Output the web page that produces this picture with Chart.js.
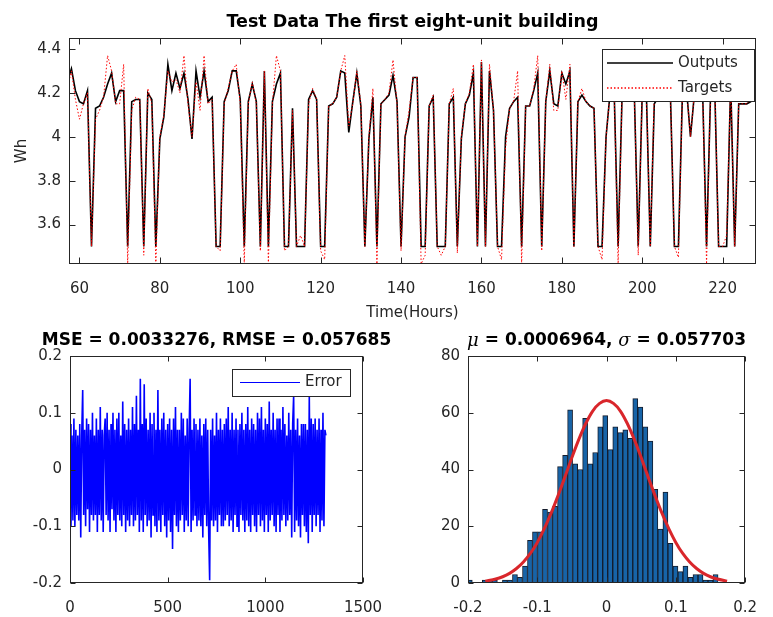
<!DOCTYPE html>
<html>
<head>
<meta charset="utf-8">
<script src="https://cdn.jsdelivr.net/npm/chart.js@4.4.0/dist/chart.umd.min.js"></script>
<style>
  html, body { margin: 0; padding: 0; background: #fff; }
  #page { position: relative; width: 773px; height: 617px; overflow: hidden; background: #fff; }
  canvas { position: absolute; }
</style>
</head>
<body>
<div id="page">
  <canvas id="top-chart" width="773" height="330" style="left:0px;top:0px"></canvas>
  <canvas id="error-chart" width="400" height="297" style="left:0px;top:320px"></canvas>
  <canvas id="hist-chart" width="353" height="297" style="left:420px;top:320px"></canvas>
</div>
<script>
// ---- datos del gráfico superior (una muestra por hora, desde la hora 57) ----
const startHour = 57;
const outputs = [
  4.25, 4.31, 4.21, 4.16, 4.15, 4.21, 3.5, 4.13, 4.14, 4.18,
  4.24, 4.29, 4.16, 4.21, 4.21, 3.5, 4.16, 4.17, 4.17, 3.5,
  4.2, 4.17, 3.5, 3.99, 4.09, 4.33, 4.21, 4.29, 4.22, 4.29,
  4.17, 3.99, 4.3, 4.18, 4.3, 4.16, 4.18, 3.5, 3.5, 4.16,
  4.21, 4.3, 4.3, 4.17, 3.5, 4.16, 4.24, 4.16, 3.5, 4.3,
  3.5, 4.16, 4.24, 4.29, 3.5, 3.5, 4.13, 3.5, 3.5, 3.5,
  4.17, 4.21, 4.17, 3.5, 3.5, 4.14, 4.15, 4.18, 4.3, 4.29,
  4.02, 4.16, 4.29, 4.14, 3.5, 3.99, 4.18, 3.5, 4.15, 4.17,
  4.19, 4.28, 4.16, 3.5, 4.0, 4.09, 4.27, 4.27, 3.5, 3.5,
  4.14, 4.18, 3.5, 3.5, 3.5, 4.15, 4.18, 3.5, 3.99, 4.15,
  4.19, 4.29, 3.5, 4.34, 3.5, 4.3, 4.12, 3.5, 3.5, 4.0,
  4.13, 4.16, 4.18, 3.5, 4.14, 4.14, 4.21, 4.29, 3.5, 4.16,
  4.3, 4.15, 4.14, 4.29, 4.24, 4.3, 3.5, 4.16, 4.19, 4.16,
  4.14, 4.13, 3.5, 3.5, 4.0, 4.2, 4.22, 3.5, 4.2, 4.25,
  4.2, 4.22, 3.5, 4.2, 4.22, 3.5, 4.15, 4.18, 4.22, 4.25,
  4.2, 3.5, 3.5, 4.2, 4.22, 4.0, 4.2, 4.25, 4.22, 3.5,
  4.2, 4.25, 3.5, 3.5, 3.5, 4.25, 3.5, 4.15, 4.15, 4.15,
  4.16, 4.2
];
const targets = [
  4.22, 4.3, 4.17, 4.08, 4.15, 4.2, 3.5, 4.08, 4.12, 4.18,
  4.37, 4.3, 4.15, 4.15, 4.33, 3.42, 4.12, 4.18, 4.17, 3.46,
  4.22, 4.15, 3.42, 4.0, 4.1, 4.3, 4.25, 4.26, 4.2, 4.37,
  4.15, 4.0, 4.25, 4.12, 4.37, 4.15, 4.17, 3.5, 3.48, 4.15,
  4.22, 4.3, 4.33, 4.15, 3.42, 4.15, 4.25, 4.15, 3.48, 4.3,
  3.42, 4.15, 4.37, 4.3, 3.48, 3.5, 4.12, 3.5, 3.55, 3.5,
  4.15, 4.22, 4.17, 3.48, 3.44, 4.14, 4.15, 4.18, 4.3, 4.37,
  4.05, 4.15, 4.3, 4.15, 3.5, 4.0, 4.22, 3.42, 4.15, 4.17,
  4.2, 4.35, 4.15, 3.48, 4.0, 4.12, 4.27, 4.27, 3.42, 3.46,
  4.14, 4.19, 3.5, 3.46, 3.5, 4.15, 4.22, 3.47, 4.0, 4.15,
  4.2, 4.33, 3.5, 4.35, 3.5, 4.33, 4.12, 3.5, 3.44, 3.95,
  4.13, 4.16, 4.3, 3.42, 4.14, 4.14, 4.22, 4.37, 3.48, 4.16,
  4.33, 4.12, 4.12, 4.3, 4.17, 4.33, 3.5, 4.16, 4.22, 4.16,
  4.14, 4.13, 3.5, 3.44, 4.0, 4.2, 4.22, 3.42, 4.2, 4.25,
  4.2, 4.22, 3.46, 4.2, 4.22, 3.5, 4.2, 4.18, 4.22, 4.25,
  4.2, 3.5, 3.45, 4.2, 4.22, 4.0, 4.2, 4.25, 4.22, 3.42,
  4.2, 4.25, 3.5, 3.5, 3.55, 4.25, 3.5, 4.15, 4.15, 4.15,
  4.17, 4.22
];
const topXTicks = [60, 80, 100, 120, 140, 160, 180, 200, 220];
const topYTicks = [3.6, 3.8, 4, 4.2, 4.4];

// ---- error (una lectura cada 5 muestras) ----
const errorStep = 5;
const errors = [
  0.08, -0.1, 0.06, -0.09, 0.09, -0.1, 0.07, -0.08, 0.06, -0.09,
  0.08, -0.12, 0.06, 0.14, -0.08, 0.07, -0.1, 0.09, -0.07, 0.08,
  -0.11, 0.07, -0.08, 0.1, -0.09, 0.06, -0.08, 0.09, -0.11, 0.07,
  -0.08, 0.11, -0.09, 0.07, -0.11, 0.06, 0.09, -0.08, 0.1, -0.09,
  0.07, -0.11, 0.08, -0.07, 0.1, -0.09, 0.07, -0.11, 0.09, -0.08,
  0.1, -0.09, 0.06, -0.1, 0.12, -0.08, 0.08, -0.11, 0.07, -0.09,
  0.09, -0.1, 0.07, -0.08, 0.11, -0.1, 0.08, -0.09, 0.13, -0.08,
  0.07, -0.11, 0.16, -0.09, 0.08, -0.11, 0.15, -0.08, 0.09, -0.1,
  0.07, -0.09, 0.1, -0.12, 0.08, -0.08, 0.1, -0.1, 0.07, -0.11,
  0.14, -0.09, 0.07, -0.11, 0.09, -0.08, 0.1, -0.1, 0.07, -0.12,
  0.08, -0.09, 0.09, -0.11, 0.07, -0.14, 0.09, -0.08, 0.11, -0.1,
  0.07, -0.11, 0.07, -0.09, 0.1, -0.08, 0.09, -0.11, 0.06, -0.09,
  0.09, -0.1, 0.07, 0.16, -0.11, 0.07, -0.09, 0.09, -0.08, 0.08,
  -0.1, 0.07, -0.09, 0.09, -0.1, 0.06, -0.12, 0.08, -0.08, 0.09,
  -0.1, 0.07, -0.11, -0.195, 0.07, -0.09, 0.09, -0.1, 0.06, -0.09,
  0.1, -0.11, 0.07, -0.08, 0.09, -0.1, 0.07, -0.1, 0.08, -0.09,
  0.09, -0.08, 0.11, -0.1, 0.07, -0.09, 0.1, -0.11, 0.07, -0.08,
  0.09, -0.1, 0.07, -0.11, 0.08, -0.08, 0.1, -0.09, 0.07, -0.11,
  0.08, -0.09, 0.11, -0.1, 0.07, -0.11, 0.09, -0.08, 0.08, -0.1,
  0.07, -0.11, 0.1, -0.08, 0.09, -0.1, 0.11, -0.09, 0.07, -0.11,
  0.09, -0.08, 0.08, -0.11, 0.12, -0.09, 0.07, -0.08, 0.1, -0.1,
  0.07, -0.11, 0.09, -0.08, 0.09, -0.11, 0.07, -0.09, 0.11, -0.08,
  0.08, -0.1, 0.06, -0.09, 0.1, -0.08, 0.07, -0.12, 0.08, 0.13,
  -0.11, 0.07, -0.09, 0.09, -0.1, 0.06, -0.12, 0.08, -0.08, 0.08,
  -0.1, 0.08, -0.11, 0.07, -0.13, 0.13, -0.08, 0.09, -0.11, 0.08,
  -0.08, 0.09, -0.1, 0.07, -0.08, 0.09, -0.11, 0.07, -0.09, 0.1,
  -0.1, 0.07, 0.06
];
const errXTicks = [0, 500, 1000, 1500];
const errYTicks = [-0.2, -0.1, 0, 0.1, 0.2];

// ---- histograma ----
const binCenters = [
  -0.1974, -0.1901, -0.1829, -0.1757, -0.1684, -0.1612, -0.1539, -0.1467, -0.1395, -0.1322,
  -0.1250, -0.1177, -0.1105, -0.1033, -0.0960, -0.0888, -0.0815, -0.0743, -0.0671, -0.0598,
  -0.0526, -0.0453, -0.0381, -0.0309, -0.0236, -0.0164, -0.0091, -0.0019, 0.0053, 0.0126,
  0.0198, 0.0271, 0.0343, 0.0415, 0.0488, 0.0560, 0.0633, 0.0705, 0.0777, 0.0850,
  0.0922, 0.0995, 0.1067, 0.1139, 0.1212, 0.1284, 0.1357, 0.1429, 0.1501, 0.1574
];
const binCounts = [
  1, 0, 0, 1, 1, 1, 0, 1, 1, 3,
  2, 6, 15, 18, 18, 26, 25, 27, 41, 45,
  61, 42, 40, 58, 42, 46, 55, 59, 47, 55,
  53, 54, 51, 65, 62, 55, 50, 33, 19, 32,
  14, 6, 4, 6, 2, 3, 3, 1, 1, 3
];
const fitX = [
  -0.175, -0.16, -0.15, -0.14, -0.13, -0.12, -0.11, -0.1, -0.09, -0.08, -0.07, -0.06,
  -0.05, -0.04, -0.03, -0.02, -0.01, 0, 0.01, 0.02, 0.03, 0.04, 0.05, 0.06,
  0.07, 0.08, 0.09, 0.1, 0.11, 0.12, 0.13, 0.14, 0.15, 0.16, 0.174
];
const fitY = [
  0.65, 1.4, 2.2, 3.4, 5.1, 7.4, 10.4, 14.3, 19.1, 24.6, 30.8, 37.4,
  44.2, 50.6, 56.2, 60.6, 63.3, 64.3, 63.3, 60.6, 56.2, 50.6, 44.2, 37.4,
  30.8, 24.6, 19.1, 14.3, 10.4, 7.4, 5.1, 3.4, 2.2, 1.4, 0.65
];
const histXTicks = [-0.2, -0.1, 0, 0.1, 0.2];
const histYTicks = [0, 20, 40, 60, 80];

// ---- estilo común ----
const FONT = 'DejaVu Sans';
const INK = '#262626';
Chart.defaults.font.family = FONT;
Chart.defaults.color = INK;

// caja de ejes estilo MATLAB con marcas hacia dentro
const boxPlugin = {
  id: 'matlabBox',
  afterDraw(chart, args, opts) {
    const ctx = chart.ctx;
    const a = chart.chartArea;
    const len = opts.tickLength || 5;
    const L = Math.round(a.left) + 0.5, R = Math.round(a.right) - 0.5;
    const T = Math.round(a.top) + 0.5, B = Math.round(a.bottom) - 0.5;
    ctx.save();
    ctx.strokeStyle = INK;
    ctx.lineWidth = 1;
    ctx.beginPath();
    const xs = chart.scales.x, ys = chart.scales.y;
    xs.ticks.forEach(t => {
      const p = Math.round(xs.getPixelForValue(t.value)) + 0.5;
      ctx.moveTo(p, B); ctx.lineTo(p, B - len);
      ctx.moveTo(p, T); ctx.lineTo(p, T + len);
    });
    ys.ticks.forEach(t => {
      const p = Math.round(ys.getPixelForValue(t.value)) + 0.5;
      ctx.moveTo(L, p); ctx.lineTo(L + len, p);
      ctx.moveTo(R, p); ctx.lineTo(R - len, p);
    });
    ctx.stroke();
    ctx.strokeRect(L, T, R - L, B - T);
    ctx.restore();
  }
};

// título centrado sobre la caja de ejes (admite trozos con distinta fuente)
const axesTitle = {
  id: 'axesTitle',
  afterDraw(chart, args, opts) {
    if (!opts.parts) return;
    const ctx = chart.ctx, a = chart.chartArea;
    ctx.save();
    ctx.fillStyle = '#000';
    ctx.textBaseline = 'middle';
    const widths = opts.parts.map(p => { ctx.font = p.font; return ctx.measureText(p.text).width; });
    const total = widths.reduce((s, w) => s + w, 0);
    let x = (a.left + a.right) / 2 - total / 2;
    opts.parts.forEach((p, i) => {
      ctx.font = p.font;
      ctx.fillText(p.text, x, opts.y);
      x += widths[i];
    });
    ctx.restore();
  }
};

// leyenda con marco, dentro del área del gráfico
const boxLegend = {
  id: 'boxLegend',
  afterDraw(chart, args, opts) {
    if (!opts.items) return;
    const ctx = chart.ctx;
    ctx.save();
    ctx.fillStyle = '#fff';
    ctx.fillRect(opts.x, opts.y, opts.w, opts.h);
    ctx.strokeStyle = INK;
    ctx.lineWidth = 1;
    ctx.strokeRect(opts.x + 0.5, opts.y + 0.5, opts.w, opts.h);
    ctx.font = '15px "' + FONT + '"';
    ctx.textBaseline = 'middle';
    opts.items.forEach((idx, i) => {
      const ds = chart.data.datasets[idx];
      const cy = opts.y + opts.firstRow + i * opts.rowH;
      ctx.beginPath();
      ctx.strokeStyle = ds.borderColor;
      ctx.lineWidth = opts.lineWidth || ds.borderWidth;
      ctx.setLineDash(ds.borderDash || []);
      ctx.moveTo(opts.x + opts.lineStart, cy);
      ctx.lineTo(opts.x + opts.lineStart + opts.lineLen, cy);
      ctx.stroke();
      ctx.setLineDash([]);
      ctx.fillStyle = INK;
      ctx.fillText(ds.label, opts.x + opts.textStart, cy);
    });
    ctx.restore();
  }
};

function axis(min, max, tickList, fixed, extra) {
  return Object.assign({
    type: 'linear',
    min: min,
    max: max,
    offset: false,
    grid: { display: false, drawTicks: false, offset: false },
    border: { display: false },
    afterBuildTicks: s => { s.ticks = tickList.map(v => ({ value: v })); },
    afterFit: s => {
      if (s.isHorizontal()) s.height = fixed; else s.width = fixed;
    },
    ticks: {
      autoSkip: false,
      maxRotation: 0,
      padding: 8,
      color: INK,
      font: { size: 15 },
      callback: v => String(v)
    }
  }, extra || {});
}

const xTickStyle = { autoSkip: false, maxRotation: 0, padding: 16, color: INK, font: { size: 15 }, callback: v => String(v) };
const boldTitle = 'bold 17px "' + FONT + '"';

// ---- gráfico superior: salidas vs. objetivos ----
const hours = outputs.map((_, i) => startHour + i);
new Chart(document.getElementById('top-chart'), {
  type: 'line',
  data: {
    datasets: [{
      label: 'Outputs',
      data: hours.map((h, i) => ({ x: h, y: outputs[i] })),
      borderColor: '#000000',
      borderWidth: 1.6,
      pointRadius: 0,
      tension: 0,
      order: 1
    }, {
      label: 'Targets',
      data: hours.map((h, i) => ({ x: h, y: targets[i] })),
      borderColor: '#ff0000',
      borderWidth: 1,
      borderDash: [1.5, 2],
      pointRadius: 0,
      tension: 0,
      order: 0
    }]
  },
  options: {
    responsive: false,
    animation: false,
    devicePixelRatio: 1,
    layout: { padding: { left: 0, right: 17, top: 38, bottom: 0 } },
    scales: {
      x: axis(57.4, 228.3, topXTicks, 66, {
        ticks: xTickStyle,
        title: { display: true, text: 'Time(Hours)', color: INK, font: { size: 15 }, padding: { top: 0, bottom: 8 } }
      }),
      y: axis(3.42, 4.45, topYTicks, 69, {
        title: { display: true, text: 'Wh', color: INK, font: { size: 15 }, padding: { top: 13, bottom: 0 } }
      })
    },
    plugins: {
      legend: { display: false },
      tooltip: { enabled: false },
      matlabBox: { tickLength: 6 },
      axesTitle: { y: 22, parts: [{ text: 'Test Data The first eight-unit building', font: 'bold 17.5px "' + FONT + '"' }] },
      boxLegend: { items: [0, 1], x: 602, y: 49, w: 152, h: 52, firstRow: 14, rowH: 25, lineStart: 5, lineLen: 66, textStart: 76, lineWidth: 1.3 }
    }
  },
  plugins: [boxPlugin, boxLegend, axesTitle]
});

// ---- error ----
new Chart(document.getElementById('error-chart'), {
  type: 'line',
  data: {
    datasets: [{
      label: 'Error',
      data: errors.map((e, i) => ({ x: i * errorStep, y: e })),
      borderColor: '#0000ff',
      borderWidth: 1.6,
      pointRadius: 0,
      tension: 0
    }]
  },
  options: {
    responsive: false,
    animation: false,
    devicePixelRatio: 1,
    layout: { padding: { left: 0, right: 37, top: 36, bottom: 0 } },
    scales: {
      x: axis(0, 1500, errXTicks, 34, { ticks: xTickStyle }),
      y: axis(-0.2, 0.2, errYTicks, 70)
    },
    plugins: {
      legend: { display: false },
      tooltip: { enabled: false },
      matlabBox: { tickLength: 5 },
      axesTitle: { y: 21, parts: [{ text: 'MSE = 0.0033276, RMSE = 0.057685', font: boldTitle }] },
      boxLegend: { items: [0], x: 232, y: 49, w: 118, h: 27, firstRow: 13.5, rowH: 25, lineStart: 8, lineLen: 60, textStart: 73, lineWidth: 1 }
    }
  },
  plugins: [boxPlugin, boxLegend, axesTitle]
});

// ---- histograma con ajuste normal ----
new Chart(document.getElementById('hist-chart'), {
  type: 'bar',
  data: {
    datasets: [{
      type: 'line',
      label: 'Fit',
      data: fitX.map((x, i) => ({ x: x, y: fitY[i] })),
      borderColor: '#d9262b',
      borderWidth: 3,
      pointRadius: 0,
      tension: 0.3,
      order: 0
    }, {
      type: 'bar',
      label: 'Counts',
      data: binCenters.map((x, i) => ({ x: x, y: binCounts[i] })),
      backgroundColor: '#1764a8',
      borderColor: '#141c2c',
      borderWidth: 1,
      borderSkipped: 'start',
      barPercentage: 1,
      categoryPercentage: 1,
      order: 1
    }]
  },
  options: {
    responsive: false,
    animation: false,
    devicePixelRatio: 1,
    layout: { padding: { left: 0, right: 13, top: 36, bottom: 0 } },
    scales: {
      x: axis(-0.2, 0.2, histXTicks, 34, { ticks: xTickStyle }),
      y: axis(0, 80, histYTicks, 48)
    },
    plugins: {
      legend: { display: false },
      tooltip: { enabled: false },
      matlabBox: { tickLength: 5 },
      axesTitle: {
        y: 21,
        parts: [
          { text: 'μ', font: 'italic 18px "DejaVu Serif"' },
          { text: ' = 0.0006964, ', font: boldTitle },
          { text: 'σ', font: 'italic 18px "DejaVu Serif"' },
          { text: ' = 0.057703', font: boldTitle }
        ]
      }
    }
  },
  plugins: [boxPlugin, axesTitle]
});
</script>
</body>
</html>
